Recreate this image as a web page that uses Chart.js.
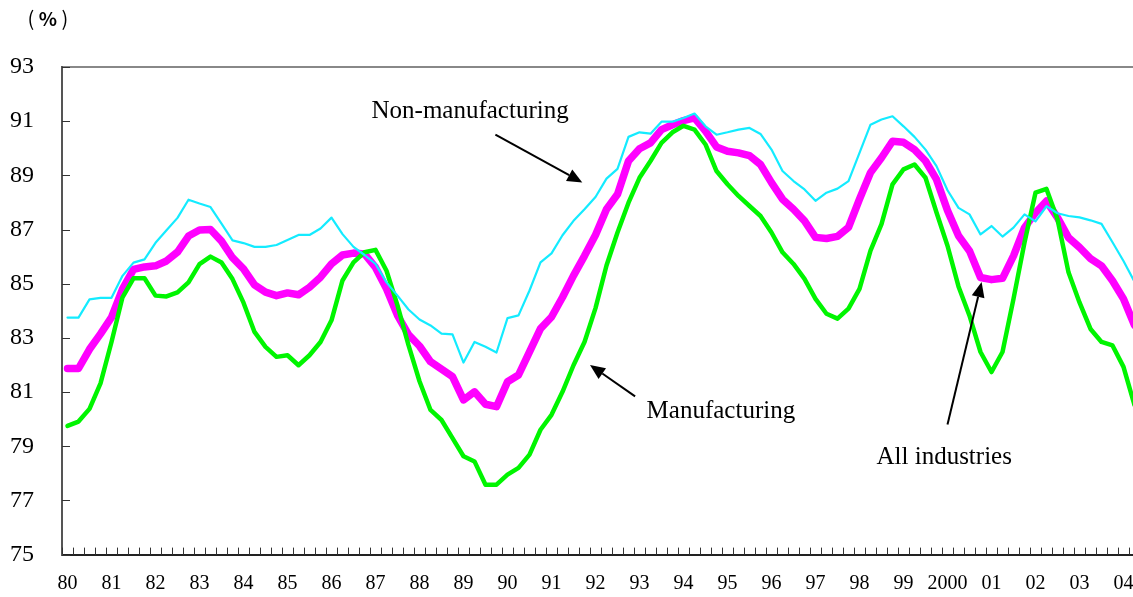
<!DOCTYPE html>
<html>
<head>
<meta charset="utf-8">
<script src="https://cdn.jsdelivr.net/npm/chart.js@4.4.1/dist/chart.umd.min.js"></script>
<style>
  html, body { margin: 0; padding: 0; background: #fff; overflow: hidden; }
</style>
</head>
<body>
<canvas id="utilChart" width="1140" height="597"></canvas>
<script>
// year tick labels, one per first quarter
var yearLabels = ['80','81','82','83','84','85','86','87','88','89','90','91','92','93','94','95','96','97','98','99','2000','01','02','03','04'];
var quarterCount = 98; // 1980 Q1 - 2004 Q2

var nonManufacturing = [
  83.75,83.75,84.42,84.48,84.48,85.29,85.78,85.9,86.51,86.97,87.43,88.1,87.96,87.83,87.22,86.6,
  86.5,86.36,86.36,86.43,86.61,86.8,86.8,87.04,87.44,86.83,86.36,86.06,85.73,85.05,84.56,84.05,
  83.68,83.46,83.16,83.13,82.09,82.85,82.67,82.46,83.73,83.83,84.75,85.79,86.12,86.79,87.32,87.75,
  88.2,88.88,89.24,90.42,90.59,90.54,90.98,90.98,91.12,91.28,90.81,90.5,90.59,90.69,90.75,90.53,
  89.95,89.16,88.79,88.48,88.06,88.36,88.51,88.79,89.83,90.87,91.06,91.18,90.81,90.42,89.95,89.34,
  88.45,87.8,87.56,86.82,87.13,86.74,87.07,87.56,87.3,87.86,87.6,87.5,87.45,87.34,87.21,86.53,
  85.84,85.07
];
var manufacturing = [
  79.75,79.91,80.38,81.32,82.85,84.5,85.2,85.2,84.56,84.53,84.68,85.05,85.72,86.0,85.78,85.17,
  84.3,83.22,82.67,82.3,82.36,81.99,82.36,82.85,83.65,85.12,85.79,86.16,86.25,85.48,84.2,82.73,
  81.4,80.34,79.97,79.3,78.63,78.44,77.58,77.58,77.95,78.2,78.69,79.61,80.16,81.01,81.99,82.85,
  84.1,85.67,86.89,87.99,88.91,89.53,90.2,90.59,90.83,90.69,90.14,89.16,88.67,88.24,87.87,87.5,
  86.89,86.16,85.73,85.18,84.44,83.89,83.71,84.08,84.81,86.22,87.2,88.67,89.22,89.4,88.91,87.63,
  86.4,84.9,83.82,82.48,81.74,82.48,84.44,86.52,88.36,88.5,87.38,85.42,84.31,83.33,82.85,82.72,
  81.93,80.52
];
var allIndustries = [
  81.87,81.87,82.58,83.15,83.76,84.8,85.53,85.62,85.66,85.84,86.17,86.76,86.98,87.0,86.57,85.96,
  85.55,84.96,84.69,84.56,84.66,84.59,84.87,85.24,85.73,86.06,86.13,86.1,85.6,84.81,83.83,83.12,
  82.7,82.12,81.85,81.57,80.71,81.01,80.55,80.46,81.38,81.63,82.48,83.34,83.77,84.5,85.3,86.03,
  86.8,87.75,88.3,89.53,89.98,90.2,90.69,90.87,91.02,91.12,90.63,90.05,89.89,89.83,89.73,89.4,
  88.73,88.12,87.75,87.32,86.71,86.67,86.75,87.08,88.12,89.1,89.65,90.26,90.22,89.95,89.53,88.85,
  87.7,86.77,86.21,85.23,85.15,85.2,86.03,87.07,87.62,88.05,87.44,86.7,86.34,85.93,85.66,85.11,
  84.44,83.46
];

var yMin = 75, yMax = 93, yStep = 2;

// quarter categories built from the year labels
var quarters = [];
for (var i = 0; i < quarterCount; i++) {
  quarters.push(yearLabels[Math.floor(i / 4)] + '/' + (i % 4 + 1));
}

// text labels with arrows, placed in data units (category index, %)
var notes = [
  { text: 'Non-manufacturing', at: [36.6, 91.35], from: [38.9, 90.5], to: [46.8, 88.74] },
  { text: 'Manufacturing', at: [59.4, 80.29], from: [51.6, 80.84], to: [47.5, 82.0] },
  { text: 'All industries', at: [79.7, 78.6], from: [80.0, 79.8], to: [83.1, 85.06] }
];

var serif = '"Liberation Serif", "Times New Roman", serif';

var decorations = {
  id: 'decorations',
  afterDraw: function(chart) {
    var ctx = chart.ctx, x = chart.scales.x, y = chart.scales.y;
    ctx.save();
    // inward tick marks
    ctx.strokeStyle = '#333';
    ctx.lineWidth = 1;
    ctx.beginPath();
    y.ticks.forEach(function(t) {
      var py = Math.round(y.getPixelForValue(t.value)) + 0.5;
      ctx.moveTo(x.left, py);
      ctx.lineTo(x.left + 8, py);
    });
    var half = (x.getPixelForValue(1) - x.getPixelForValue(0)) / 2;
    for (var i = 0; i <= quarters.length; i++) {
      var px = Math.round(x.getPixelForValue(i) - half) + 0.5;
      ctx.moveTo(px, y.bottom);
      ctx.lineTo(px, y.bottom - 7);
    }
    ctx.stroke();

    // unit label
    ctx.fillStyle = '#000';
    ctx.textBaseline = 'middle';
    ctx.textAlign = 'center';
    ctx.font = '20px "Noto Sans CJK JP"';
    ctx.fillText('(', 31, 18);
    ctx.fillText(')', 65, 18);
    ctx.font = 'bold 19px "Noto Sans CJK JP"';
    ctx.fillText('%', 48, 19);

    // annotations
    ctx.font = '25px ' + serif;
    ctx.lineWidth = 2;
    ctx.strokeStyle = '#000';
    notes.forEach(function(n) {
      ctx.fillText(n.text, x.getPixelForValue(n.at[0]), y.getPixelForValue(n.at[1]));
      var x0 = x.getPixelForValue(n.from[0]), y0 = y.getPixelForValue(n.from[1]);
      var x1 = x.getPixelForValue(n.to[0]), y1 = y.getPixelForValue(n.to[1]);
      var ang = Math.atan2(y1 - y0, x1 - x0), len = 15, wid = 6.5;
      var bx = x1 - len * Math.cos(ang), by = y1 - len * Math.sin(ang);
      ctx.beginPath();
      ctx.moveTo(x0, y0);
      ctx.lineTo(bx, by);
      ctx.stroke();
      ctx.beginPath();
      ctx.moveTo(x1, y1);
      ctx.lineTo(bx + wid * Math.sin(ang), by - wid * Math.cos(ang));
      ctx.lineTo(bx - wid * Math.sin(ang), by + wid * Math.cos(ang));
      ctx.closePath();
      ctx.fill();
    });
    ctx.restore();
  }
};

var chart = new Chart(document.getElementById('utilChart'), {
  type: 'line',
  data: {
    labels: quarters,
    datasets: [
      { label: 'Non-manufacturing', data: nonManufacturing, borderColor: '#14ebff', borderWidth: 2.2 },
      { label: 'Manufacturing', data: manufacturing, borderColor: '#00f500', borderWidth: 4.5 },
      { label: 'All industries', data: allIndustries, borderColor: '#ff00ff', borderWidth: 7.5 }
    ]
  },
  options: {
    responsive: false,
    animation: false,
    devicePixelRatio: 1,
    layout: { padding: { top: 67, left: 0, right: 0, bottom: 0 } },
    elements: {
      point: { radius: 0 },
      line: { tension: 0, fill: false, borderJoinStyle: 'round', borderCapStyle: 'round' }
    },
    plugins: { legend: { display: false }, tooltip: { enabled: false } },
    scales: {
      x: {
        offset: true,
        grid: { offset: true, drawOnChartArea: false, drawTicks: false },
        border: { color: '#222', width: 2 },
        ticks: {
          autoSkip: false, maxRotation: 0, minRotation: 0, padding: 17, color: '#000',
          font: { family: serif, size: 20 },
          callback: function(v, i) { return i % 4 === 0 ? yearLabels[i / 4] : ''; }
        },
        afterFit: function(s) { s.height = 40; s.paddingLeft = 0; s.paddingRight = 0; }
      },
      y: {
        min: yMin, max: yMax,
        grid: {
          drawTicks: false, lineWidth: 2,
          color: function(c) { return c.tick && c.tick.value === yMax ? '#888' : 'rgba(0,0,0,0)'; }
        },
        border: { color: '#555', width: 2 },
        ticks: { stepSize: yStep, padding: 28, color: '#000', font: { family: serif, size: 24 } },
        afterFit: function(s) { s.width = 62; }
      }
    }
  },
  plugins: [decorations]
});
</script>
</body>
</html>
